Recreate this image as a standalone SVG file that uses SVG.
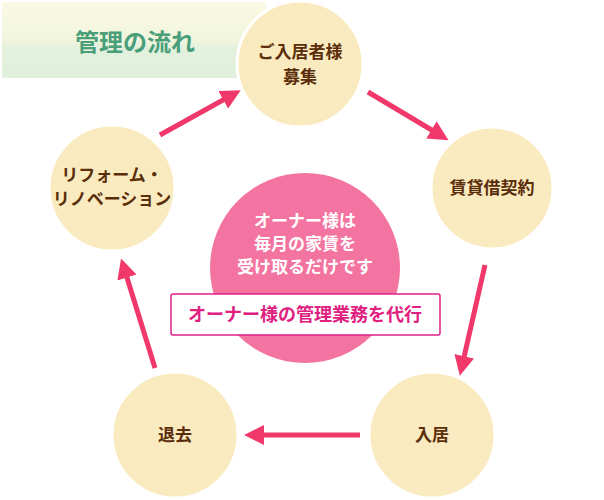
<svg xmlns="http://www.w3.org/2000/svg" width="604" height="500" viewBox="0 0 604 500">
<defs>
<linearGradient id="tg" x1="0" y1="0" x2="0" y2="1"><stop offset="0" stop-color="#fbfae4"/><stop offset="0.5" stop-color="#f1f5dd"/><stop offset="0.6" stop-color="#e3f1de"/><stop offset="1" stop-color="#e0f0dd"/></linearGradient>
<marker id="ah" viewBox="0 0 10 10" refX="5" refY="5" markerWidth="4" markerHeight="4" orient="auto"><path d="M0,0 L10,5 L0,10 z" fill="#f0386a"/></marker>
<style>
.n{fill:#faeac0;stroke:#fff;stroke-width:3}
.nt{font-family:"Noto Sans CJK JP",sans-serif;font-weight:bold;font-size:17px;fill:#5a2e0a;text-anchor:middle}
.a{stroke:#f0386a;stroke-width:5;fill:none;marker-end:url(#ah)}
.w{font-family:"Noto Sans CJK JP",sans-serif;font-weight:bold;font-size:17px;fill:#fff;text-anchor:middle}
</style>
</defs>
<rect width="604" height="500" fill="#fff"/>
<g id="title"><rect x="2" y="2" width="264" height="76" fill="url(#tg)"/>
<text x="135" y="51" font-family="'Noto Sans CJK JP',sans-serif" font-weight="bold" font-size="24" fill="#4a9e7a" text-anchor="middle">管理の流れ</text></g>
<g id="connectors">
<line class="a" x1="160" y1="135" x2="232" y2="95"/>
<line class="a" x1="368" y1="92" x2="440" y2="135"/>
<line class="a" x1="485" y1="265" x2="462" y2="366"/>
<line class="a" x1="360" y1="435" x2="254" y2="435"/>
<line class="a" x1="155" y1="368" x2="124" y2="268"/>
</g>
<g id="center"><circle cx="305" cy="268" r="95" fill="#f374a0"/>
<text class="w" x="305" y="227">オーナー様は</text>
<text class="w" x="305" y="250">毎月の家賃を</text>
<text class="w" x="305" y="273">受け取るだけです</text>
<rect x="171" y="294" width="269" height="41" rx="2" fill="#fff" stroke="#e0208a" stroke-width="1.5"/>
<text x="305" y="321" font-family="'Noto Sans CJK JP',sans-serif" font-weight="bold" font-size="18" fill="#e0207f" text-anchor="middle">オーナー様の管理業務を代行</text></g>
<g id="n1"><circle class="n" cx="300" cy="64" r="63"/><text class="nt" x="300" y="58">ご入居者様</text><text class="nt" x="300" y="83">募集</text></g>
<g id="n2"><circle class="n" cx="492" cy="188" r="61"/><text class="nt" x="492" y="194">賃貸借契約</text></g>
<g id="n3"><circle class="n" cx="432" cy="435" r="63"/><text class="nt" x="432" y="441">入居</text></g>
<g id="n4"><circle class="n" cx="175" cy="435" r="63"/><text class="nt" x="175" y="441">退去</text></g>
<g id="n5"><circle class="n" cx="112" cy="188" r="63"/><text class="nt" x="112" y="181" font-size="15">リフォーム・</text><text class="nt" x="112" y="205" font-size="15">リノベーション</text></g>
</svg>
